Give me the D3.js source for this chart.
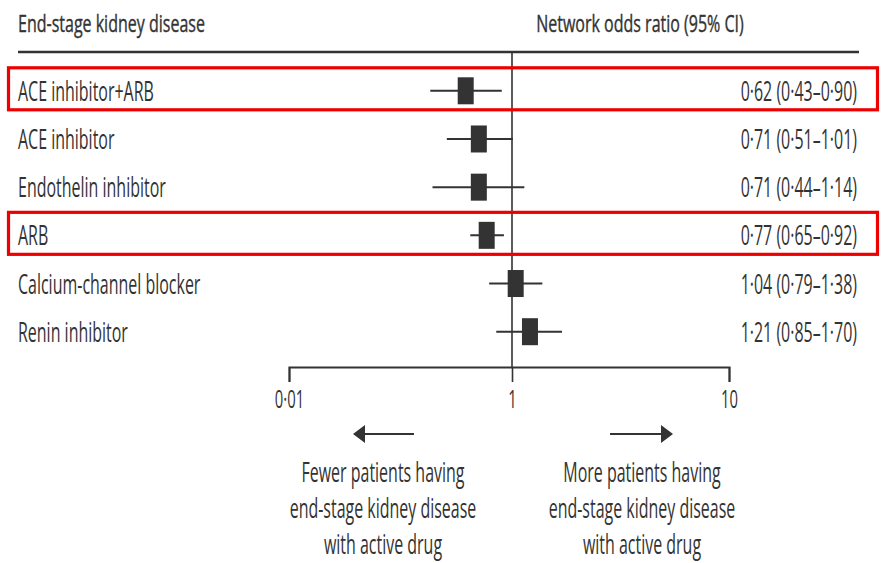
<!DOCTYPE html>
<html>
<head>
<meta charset="utf-8">
<script src="https://cdn.jsdelivr.net/npm/d3@7/dist/d3.min.js"></script>
<style>
  html, body { margin: 0; padding: 0; background: #fff; }
  svg { display: block; }
  text { font-family: 'Open Sans', 'Liberation Sans', sans-serif; fill: #333; }
</style>
</head>
<body>
<svg id="chart" width="881" height="563"></svg>
<script>
// Network meta-analysis: end-stage kidney disease, odds ratio vs placebo
const treatments = ["ACE inhibitor+ARB", "ACE inhibitor", "Endothelin inhibitor", "ARB", "Calcium-channel blocker", "Renin inhibitor"];
const oddsRatio = [0.62, 0.71, 0.71, 0.77, 1.04, 1.21];
const ciLow = [0.43, 0.51, 0.44, 0.65, 0.79, 0.85];
const ciHigh = [0.90, 1.01, 1.14, 0.92, 1.38, 1.70];
const highlighted = ["ACE inhibitor+ARB", "ARB"];
const tickValues = [0.1, 1, 10];
const tickLabels = ["0·01", "1", "10"];
const directionNotes = [
  ["Fewer patients having", "end-stage kidney disease", "with active drug"],
  ["More patients having", "end-stage kidney disease", "with active drug"]
];

const svg = d3.select("#chart");
const ink = "#333";
const bodySize = 28, headSize = 24, tickSize = 26;

// horizontal condensing factor so the installed font sets as a condensed face
function natural(str, size) {
  const t = svg.append("text").style("font-size", size + "px").text(str);
  const w = t.node().getComputedTextLength();
  t.remove();
  return w;
}
const bodySx = 136 / natural("ACE inhibitor+ARB", bodySize);
const headSx = 187 / natural("End-stage kidney disease", headSize);

const x = d3.scaleLog().domain([0.1, 1, 10]).range([289, 512, 729]);
const y = d3.scalePoint().domain(treatments).range([90.8, 331.7]);
const axisY = 367;
const fmt = v => d3.format(".2f")(v).replace(".", "·");

const rows = treatments.map((t, i) => ({ t, or: oddsRatio[i], lo: ciLow[i], hi: ciHigh[i] }));

// column headers
svg.append("text")
  .attr("transform", "translate(18,32) scale(" + headSx + ",1)")
  .style("font-size", headSize + "px").style("stroke", ink).style("stroke-width", 0.4)
  .text("End-stage kidney disease");
svg.append("text")
  .attr("transform", "translate(640,32) scale(" + headSx + ",1)")
  .attr("text-anchor", "middle")
  .style("font-size", headSize + "px").style("stroke", ink).style("stroke-width", 0.4)
  .text("Network odds ratio (95% CI)");
svg.append("line")
  .attr("x1", 18).attr("x2", 859).attr("y1", 52).attr("y2", 52)
  .attr("stroke", ink).attr("stroke-width", 2.5);

// line of no effect
svg.append("line")
  .attr("x1", x(1)).attr("x2", x(1)).attr("y1", 52).attr("y2", axisY)
  .attr("stroke", ink).attr("stroke-width", 1.6);

// highlight boxes
svg.selectAll("rect.hl").data(rows.filter(d => highlighted.includes(d.t)))
  .join("rect").attr("class", "hl")
  .attr("x", 8.5).attr("width", 869)
  .attr("y", d => y(d.t) - 23).attr("height", 42)
  .attr("fill", "none").attr("stroke", "#ee0000").attr("stroke-width", 3.2);

const g = svg.selectAll("g.row").data(rows).join("g").attr("class", "row");

g.append("text")
  .attr("transform", d => "translate(18," + (y(d.t) + 10) + ") scale(" + bodySx + ",1)")
  .style("font-size", bodySize + "px")
  .text(d => d.t);

g.append("line")
  .attr("x1", d => x(d.lo)).attr("x2", d => x(d.hi))
  .attr("y1", d => y(d.t)).attr("y2", d => y(d.t))
  .attr("stroke", ink).attr("stroke-width", 2);

g.append("rect")
  .attr("x", d => x(d.or) - 8).attr("width", 16)
  .attr("y", d => y(d.t) - 13.5).attr("height", 27)
  .attr("fill", ink);

g.append("text")
  .attr("transform", d => "translate(857," + (y(d.t) + 10) + ") scale(" + bodySx + ",1)")
  .attr("text-anchor", "end")
  .style("font-size", bodySize + "px")
  .text(d => fmt(d.or) + " (" + fmt(d.lo) + "–" + fmt(d.hi) + ")");

// x axis
const axis = d3.axisBottom(x)
  .tickValues(tickValues)
  .tickFormat((d, i) => tickLabels[i])
  .tickSize(15).tickSizeOuter(15).tickPadding(8);
const ax = svg.append("g").attr("transform", "translate(0," + axisY + ")").call(axis);
ax.attr("font-family", null).attr("font-size", null);
ax.select(".domain").attr("stroke", ink).attr("stroke-width", 2);
ax.selectAll(".tick line").attr("stroke", ink).attr("stroke-width", 1.6);
ax.selectAll(".tick text")
  .attr("y", 41).attr("dy", 0)
  .attr("transform", "scale(" + bodySx + ",1)")
  .style("font-size", tickSize + "px").attr("fill", ink);

// direction arrows
const arrowY = 434;
function arrow(x0, x1) {
  const dir = Math.sign(x1 - x0);
  svg.append("line")
    .attr("x1", x0).attr("x2", x1 - dir * 10).attr("y1", arrowY).attr("y2", arrowY)
    .attr("stroke", ink).attr("stroke-width", 2);
  svg.append("path")
    .attr("d", "M" + x1 + "," + arrowY + " L" + (x1 - dir * 12) + "," + (arrowY - 9) +
               " L" + (x1 - dir * 12) + "," + (arrowY + 9) + "Z")
    .attr("fill", ink);
}
arrow(414, 353);
arrow(610, 673);

// direction notes
const noteX = [383, 642];
directionNotes.forEach((lines, k) => {
  lines.forEach((s, j) => {
    svg.append("text")
      .attr("transform", "translate(" + noteX[k] + "," + (482 + j * 36) + ") scale(" + bodySx + ",1)")
      .attr("text-anchor", "middle")
      .style("font-size", bodySize + "px")
      .text(s);
  });
});
</script>
</body>
</html>
